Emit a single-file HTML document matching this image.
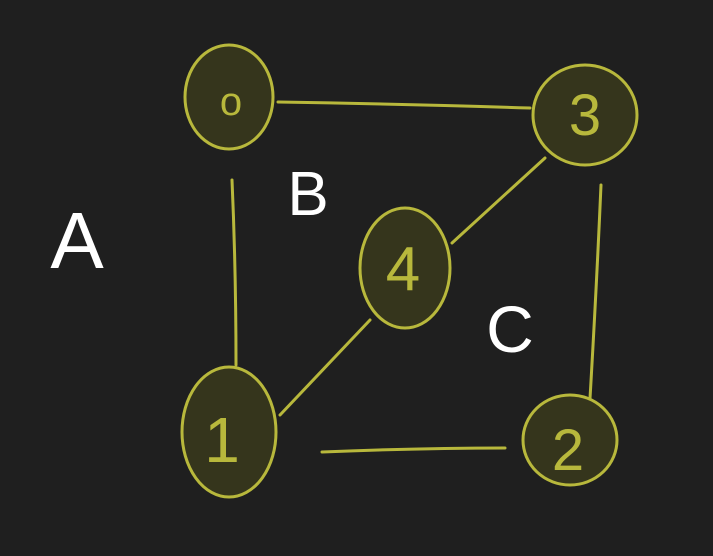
<!DOCTYPE html>
<html><head><meta charset="utf-8"><style>
html,body{margin:0;padding:0;background:#1f1f1f;}
svg{display:block;}
</style></head><body>
<svg width="713" height="556" viewBox="0 0 713 556" xmlns="http://www.w3.org/2000/svg">
<rect width="713" height="556" fill="#1f1f1f"/>
<g stroke="#b8b83c" stroke-width="3" fill="none" stroke-linecap="round">
<path d="M278 102 Q400 104 530 108"/>
<path d="M545 158 L452 243"/>
<path d="M370 320 L280 415"/>
<path d="M232 180 Q236 270 236 365"/>
<path d="M601 185 Q596 300 588 432"/>
<path d="M322 452 Q420 448 505 448"/>
</g>
<g stroke="#b8b83c" stroke-width="3" fill="#35351c">
<ellipse cx="229" cy="97" rx="44" ry="52"/>
<ellipse cx="585" cy="115" rx="52" ry="50"/>
<ellipse cx="405" cy="268" rx="45" ry="60"/>
<ellipse cx="229" cy="432" rx="47" ry="65"/>
<ellipse cx="570" cy="440" rx="47" ry="45"/>
</g>
<g fill="#b8b83c" font-family="Liberation Sans, sans-serif" text-anchor="middle">
<text x="231" y="115" font-size="40">o</text>
<text x="585" y="135" font-size="58">3</text>
<text x="403" y="290" font-size="62">4</text>
<text x="222" y="462" font-size="64">1</text>
<text x="568" y="470" font-size="58">2</text>
</g>
<g fill="#ffffff" font-family="Liberation Sans, sans-serif" text-anchor="middle">
<text x="77" y="268" font-size="80">A</text>
<text x="308" y="215" font-size="62">B</text>
<text x="510" y="352" font-size="66">C</text>
</g>
</svg>
</body></html>
